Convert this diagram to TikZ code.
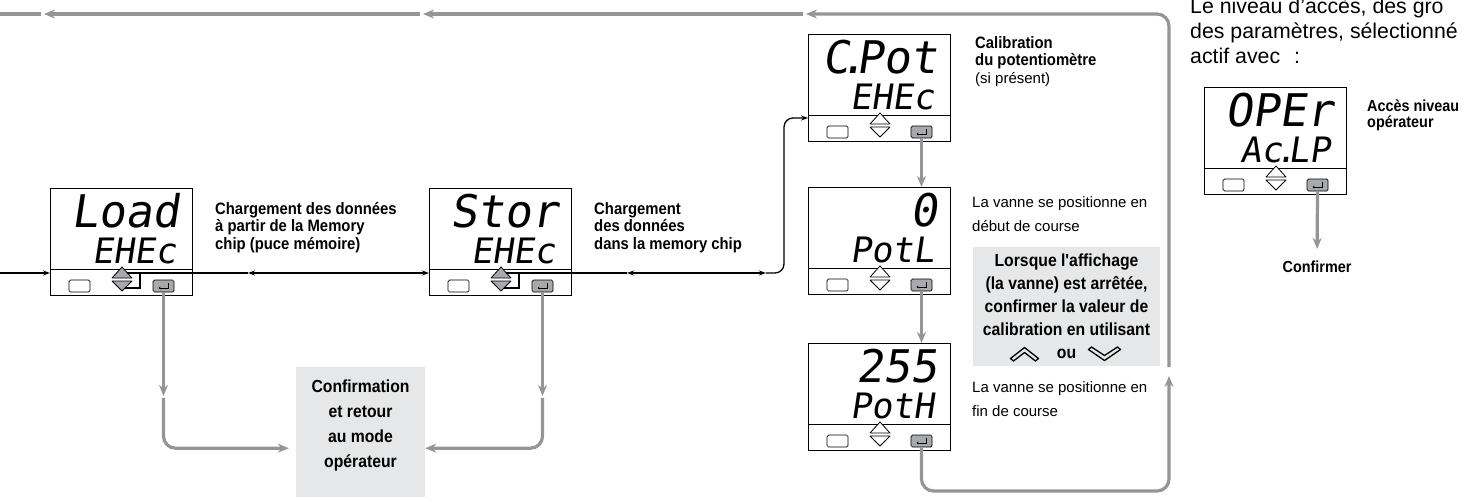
\documentclass[tikz,border=0pt]{standalone}
\usepackage{fontspec}
\setmainfont{Liberation Sans}
\newfontfamily\condfont[FakeStretch=0.9]{Liberation Sans}
\newfontfamily\segfont[FakeSlant=0.15]{DejaVu Sans Mono}
\usepackage{tikz}
\usetikzlibrary{arrows.meta,positioning,calc}
\definecolor{linegray}{RGB}{147,149,152}
\definecolor{boxgray}{RGB}{230,231,232}
\definecolor{keygray}{RGB}{167,169,172}

\newcommand{\drawdisplay}[6]{%
  \node[dispbox] (#1) at (#2,#3) {};
  \draw[line width=0.9pt] ($(#1.north west)+(0,81)$) -- ($(#1.north east)+(0,81)$);
  \node[segbig] (#1-top) at ($(#1.north west)+(130,39)$) {#4};
  \node[segsmall] (#1-bot) at ($(#1.north west)+(127,75)$) {#5};
  \node[keyblank] (#1-esc) at ($(#1.north west)+(29.5,98)$) {};
  \node[keyenter] (#1-ent) at ($(#1.north west)+(113.5,98)$) {};
  \draw[line width=0.8pt, -{Stealth[length=2pt,width=2.5pt]}] ($(#1-ent)+(5,-3)$) |- ($(#1-ent)+(-5,2)$);
  \draw[line width=0.8pt, fill=#6, line join=round] ($(#1.north west)+(62,90)$) -- ++(10,-11) -- ++(10,11) -- cycle;
  \draw[line width=0.8pt, fill=#6, line join=round] ($(#1.north west)+(62,93)$) -- ++(20,0) -- ++(-10,10) -- cycle;
}

\begin{document}
\begin{tikzpicture}[x=1pt, y=-1pt,
  dispbox/.style={draw, line width=0.9pt, fill=white, minimum width=142pt, minimum height=107pt, anchor=north west, inner sep=0pt},
  segbig/.style={font=\segfont\fontsize{45}{45}\selectfont, inner sep=0pt, anchor=base east},
  segsmall/.style={font=\segfont\fontsize{35}{35}\selectfont, inner sep=0pt, anchor=base east},
  keyblank/.style={draw, line width=0.7pt, rounded corners=1.5pt, minimum width=21pt, minimum height=12pt, inner sep=0pt, fill=white},
  keyenter/.style={keyblank, fill=keygray},
  boldtxt/.style={font=\condfont\bfseries\fontsize{16.5}{17.5}\selectfont, align=left, inner sep=0pt, anchor=north west},
  normtxt/.style={font=\fontsize{15}{24.5}\selectfont, align=left, inner sep=0pt, anchor=north west},
  greybox/.style={fill=boxgray, inner sep=0pt},
  bline/.style={line width=1.3pt, black},
  barrow/.style={bline, -{Stealth[length=7pt,width=5pt]}},
  bboth/.style={bline, {Stealth[length=7pt,width=5pt]}-{Stealth[length=7pt,width=5pt]}},
  gline/.style={line width=3.2pt, linegray},
  garrow/.style={gline, -{Stealth[length=11pt,width=9pt]}}]
\useasboundingbox (0,0) rectangle (1462,496);
\clip (0,0) rectangle (1462,496);

\node[greybox, minimum width=129pt, minimum height=162pt, anchor=north] (retour) at (360.5,367) {};
\node[font=\condfont\bfseries\fontsize{17.5}{25}\selectfont, align=center, inner sep=0pt, anchor=north] (retourtx) at (360.5,380) {Confirmation\\et retour\\au mode\\opérateur};
\node[greybox, minimum width=187pt, minimum height=119pt, align=center, font=\condfont\bfseries\fontsize{17.5}{23}\selectfont] (hint) at (1066.5,306.5) {Lorsque l'affichage\\(la vanne) est arrêtée,\\confirmer la valeur de\\calibration en utilisant\\ou};
\draw[line width=1.3pt, line join=round] ($(hint.center)+(-42,47)$) ++(-14,5) -- ++(14,-11) -- ++(14,11) -- ++(-3,2.5) -- ++(-11,-8.5) -- ++(-11,8.5) -- cycle;
\draw[line width=1.3pt, line join=round] ($(hint.center)+(38,48)$) ++(-16,-5) -- ++(16,11) -- ++(16,-11) -- ++(-3,-2.5) -- ++(-13,8.5) -- ++(-13,-8.5) -- cycle;

\drawdisplay{load}{50}{188}{Load}{EHEc}{keygray}
\drawdisplay{stor}{429}{188}{Stor}{EHEc}{keygray}
\drawdisplay{cpot}{808}{34}{C\kern-.22em.\kern-.22em Pot}{EHEc}{white}
\drawdisplay{potl}{808}{187}{0}{PotL}{white}
\drawdisplay{poth}{808}{343}{255}{PotH}{white}
\drawdisplay{oper}{1204}{87}{OPEr}{Ac\kern-.22em.\kern-.22em LP}{white}

\foreach \dsp in {load,stor} {
  \coordinate (\dsp-br) at ($(\dsp.north west)+(90,85)$);
  \draw[bline] ($(\dsp.north west)+(77,85)$) -- (\dsp-br) |- ($(\dsp.north west)+(75,100)$);
}

\node[boldtxt] (txload) at (215,202) {Chargement des données\\à partir de la Memory\\chip (puce mémoire)};
\node[boldtxt] (txstor) at (594,202) {Chargement\\des données\\dans la memory chip};
\node[boldtxt] (txcpot) at (975,36) {Calibration\\du potentiomètre\\{\normalfont\fontsize{15}{17.5}\selectfont (si présent)}};
\node[normtxt] (txpotl) at (972,196) {La vanne se positionne en\\début de course};
\node[normtxt] (txpoth) at (972,381) {La vanne se positionne en\\fin de course};
\node[boldtxt, font=\condfont\bfseries\fontsize{16}{16}\selectfont] (txoper) at (1367,100) {Accès niveau\\opérateur};
\node[font=\condfont\bfseries\fontsize{16}{17}\selectfont, inner sep=0pt] (confirmer) at (1317,267) {Confirmer};
\node[normtxt, font=\fontsize{21.3}{25}\selectfont] (txniveau) at (1190,-2) {Le niveau d'accès, des gro\\des paramètres, sélectionné\\actif avec\hspace{14pt}:};

\coordinate (lin) at (0,273);
\coordinate (lmid) at (248,273);
\coordinate (smid) at (627,273);
\coordinate (smid2) at (766,273);
\coordinate (cturn) at (784,118);
\coordinate (ldrop) at (163.5,396);
\coordinate (sdrop) at (542.5,396);
\coordinate (rbot) at (1169,491);
\coordinate (rret) at (1169,376);
\coordinate (rtop) at (1169,367);
\coordinate (ta1) at (806,14);
\coordinate (ta2) at (423,14);
\coordinate (ta3) at (44,14);
\coordinate (tout) at (0,14);

\draw[barrow] (lin) -- (lin -| load.west);
\draw[bline] (load-br) -- (lmid);
\draw[bboth] (lmid) -- (lmid -| stor.west);
\draw[bline] (stor-br) -- (smid);
\draw[bboth] (smid) -- (smid2);
\draw[barrow, rounded corners=9pt] (smid2) -| (cturn) -- (cturn -| cpot.west);

\draw[garrow] (load-ent.south) -- (ldrop);
\draw[garrow, rounded corners=12pt, shorten <=2pt, shorten >=7pt] (ldrop) |- (retour.west);
\draw[garrow] (stor-ent.south) -- (sdrop);
\draw[garrow, rounded corners=12pt, shorten <=2pt] (sdrop) |- (retour.east);
\draw[garrow] (cpot-ent.south) -- (cpot-ent.south |- potl.north);
\draw[garrow] (potl-ent.south) -- (potl-ent.south |- poth.north);
\draw[garrow, rounded corners=12pt] (poth-ent.south) |- (rbot) -- (rret);
\draw[garrow, rounded corners=12pt] (rtop) |- (ta1);
\draw[garrow, shorten <=3pt] (ta1) -- (ta2);
\draw[garrow, shorten <=3pt] (ta2) -- (ta3);
\draw[gline, shorten <=3pt] (ta3) -- (tout);
\draw[garrow, shorten >=12pt] (oper-ent.south) -- (confirmer.north);
\end{tikzpicture}
\end{document}
